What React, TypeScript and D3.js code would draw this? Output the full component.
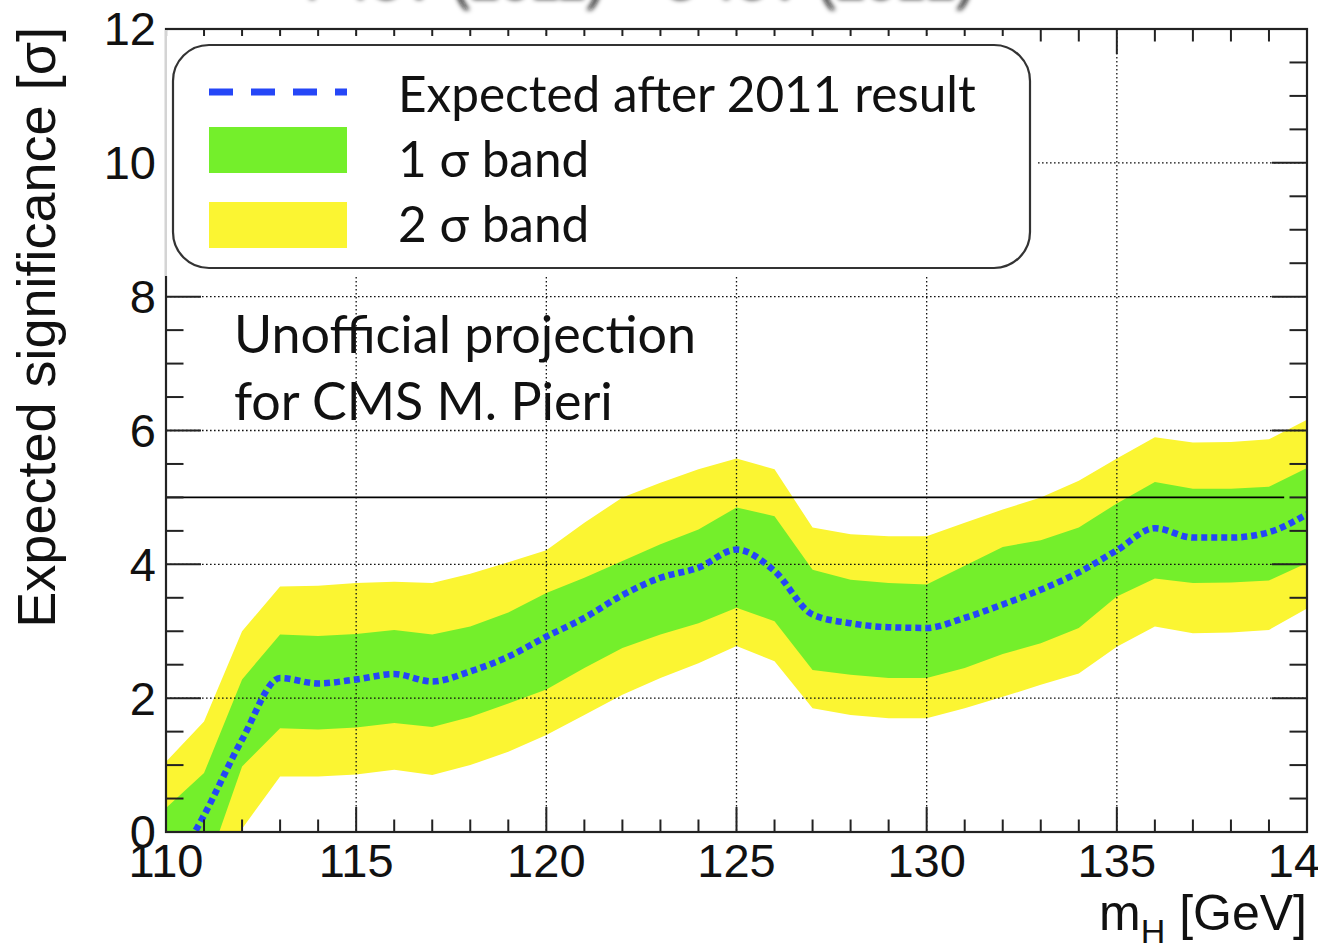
import React from 'react';
import * as d3 from 'd3';

// Higgs mass hypotheses [GeV]
const MASS = [110, 111, 112, 113, 114, 115, 116, 117, 118, 119, 120, 121, 122, 123, 124, 125, 126, 127, 128, 129, 130, 131, 132, 133, 134, 135, 136, 137, 138, 139, 140];

// Expected significance (median) and the 1σ / 2σ bands
const EXPECTED = [-0.75, 0.25, 1.38, 2.3, 2.22, 2.28, 2.36, 2.25, 2.4, 2.62, 2.92, 3.2, 3.54, 3.8, 3.95, 4.22, 3.9, 3.25, 3.12, 3.06, 3.05, 3.2, 3.4, 3.62, 3.88, 4.21, 4.54, 4.4, 4.4, 4.48, 4.75];
const BAND1_LO = [-1.6, -0.65, 0.98, 1.55, 1.53, 1.56, 1.63, 1.57, 1.72, 1.92, 2.13, 2.45, 2.75, 2.95, 3.12, 3.35, 3.15, 2.42, 2.35, 2.3, 2.3, 2.45, 2.66, 2.82, 3.05, 3.52, 3.79, 3.72, 3.73, 3.76, 4.02];
const BAND1_HI = [0.36, 0.88, 2.28, 2.95, 2.93, 2.96, 3.02, 2.95, 3.07, 3.28, 3.57, 3.8, 4.05, 4.3, 4.52, 4.85, 4.72, 3.92, 3.77, 3.72, 3.7, 3.98, 4.26, 4.36, 4.55, 4.91, 5.23, 5.13, 5.13, 5.16, 5.44];
const BAND2_LO = [-2.5, -1.3, 0.05, 0.83, 0.83, 0.86, 0.93, 0.85, 1.0, 1.2, 1.45, 1.75, 2.05, 2.3, 2.52, 2.78, 2.55, 1.85, 1.75, 1.7, 1.7, 1.85, 2.02, 2.2, 2.37, 2.77, 3.07, 2.97, 2.98, 3.02, 3.34];
const BAND2_HI = [1.05, 1.65, 3.0, 3.67, 3.68, 3.72, 3.74, 3.72, 3.86, 4.03, 4.21, 4.62, 5.0, 5.22, 5.42, 5.58, 5.42, 4.55, 4.45, 4.42, 4.42, 4.62, 4.82, 5.0, 5.25, 5.58, 5.9, 5.82, 5.83, 5.87, 6.16];

// Discovery threshold line
const DISCOVERY_LEVEL = 5;
const DISCOVERY_RANGE = [110, 139.4];

// Axes
const X_DOMAIN = [110, 140];
const Y_DOMAIN = [0, 12];
const X_TICKS = [110, 115, 120, 125, 130, 135, 140];
const Y_TICKS = [0, 2, 4, 6, 8, 10, 12];
const X_GRID = [115, 120, 125, 130, 135];
const Y_GRID = [2, 4, 6, 8, 10];

const LEGEND_LABELS = ['Expected after 2011 result', '1 σ band', '2 σ band'];
const NOTE_LINES = ['Unofficial projection', 'for CMS M. Pieri'];
const TITLE = '7 TeV (2011) + 8 TeV (2012)';

const W = 1318;
const H = 943;
const F = { left: 166, right: 1307, top: 29, bottom: 832 };

const C_GREEN = '#74ef2b';
const C_YELLOW = '#fbf532';
const C_BLUE = '#2546f7';

const AXIS_FONT = '"Liberation Sans", Arial, Helvetica, sans-serif';
const TEXT_FONT = 'Lato, "Open Sans", sans-serif';

type Row = { m: number; c: number; g0: number; g1: number; y0: number; y1: number };

export default function App() {
  const x = d3.scaleLinear().domain(X_DOMAIN).range([F.left, F.right]);
  const y = d3.scaleLinear().domain(Y_DOMAIN).range([F.bottom, F.top]);

  const rows: Row[] = MASS.map((m, i) => ({
    m,
    c: EXPECTED[i],
    g0: BAND1_LO[i],
    g1: BAND1_HI[i],
    y0: BAND2_LO[i],
    y1: BAND2_HI[i],
  }));

  const band2 = d3.area<Row>().x((d) => x(d.m)).y0((d) => y(d.y0)).y1((d) => y(d.y1));
  const band1 = d3.area<Row>().x((d) => x(d.m)).y0((d) => y(d.g0)).y1((d) => y(d.g1));
  const median = d3.line<Row>().x((d) => x(d.m)).y((d) => y(d.c)).curve(d3.curveMonotoneX);

  const xMinor = x.ticks(30);
  const yMinor = y.ticks(24);
  const xTickMajor = 25;
  const xTickMinor = 12.5;
  const yTickMajor = 35;
  const yTickMinor = 17.5;

  // legend panel geometry
  const cover = { x0: F.left, x1: 1036, y0: 36, y1: 276 };
  const box = { x: 173, y: 45, w: 857, h: 223 };
  const swX0 = 209;
  const swX1 = 347;
  const textX = 398;

  return (
    <svg
      width={W}
      height={H}
      style={{ position: 'absolute', left: 0, top: 0, background: '#fff' }}
      xmlns="http://www.w3.org/2000/svg"
    >
      <defs>
        <clipPath id="plotClip">
          <rect x={F.left} y={F.top} width={F.right - F.left} height={F.bottom - F.top} />
        </clipPath>
        <filter id="soft" x="-10%" y="-50%" width="120%" height="200%">
          <feGaussianBlur stdDeviation="2.6" />
        </filter>
      </defs>

      {/* heading, mostly above the visible area */}
      <text
        x={300}
        y={-1}
        fontFamily={AXIS_FONT}
        fontSize={54}
        fill="#111"
        filter="url(#soft)"
      >
        {TITLE}
      </text>

      {/* bands */}
      <g clipPath="url(#plotClip)">
        <path d={band2(rows) ?? ''} fill={C_YELLOW} />
        <path d={band1(rows) ?? ''} fill={C_GREEN} />
      </g>

      {/* grid */}
      <g stroke="#111" strokeWidth={1.3} strokeDasharray="1.6 2.4">
        {X_GRID.map((v) => (
          <line key={`gx${v}`} x1={x(v)} x2={x(v)} y1={F.top} y2={F.bottom} />
        ))}
        {Y_GRID.map((v) => (
          <line key={`gy${v}`} x1={F.left} x2={F.right} y1={y(v)} y2={y(v)} />
        ))}
      </g>

      {/* expected median */}
      <g clipPath="url(#plotClip)">
        <path
          d={median(rows) ?? ''}
          fill="none"
          stroke={C_BLUE}
          strokeWidth={6.5}
          strokeDasharray="6 4"
        />
      </g>

      {/* 5 sigma reference */}
      <line
        x1={x(DISCOVERY_RANGE[0])}
        x2={x(DISCOVERY_RANGE[1])}
        y1={y(DISCOVERY_LEVEL)}
        y2={y(DISCOVERY_LEVEL)}
        stroke="#000"
        strokeWidth={1.8}
      />

      {/* ticks on all four sides */}
      <g stroke="#222" strokeWidth={2}>
        {xMinor.map((v) => {
          const len = v % 5 === 0 ? xTickMajor : xTickMinor;
          return (
            <g key={`tx${v}`}>
              <line x1={x(v)} x2={x(v)} y1={F.bottom} y2={F.bottom - len} />
              <line x1={x(v)} x2={x(v)} y1={F.top} y2={F.top + len} />
            </g>
          );
        })}
        {yMinor.map((v) => {
          const len = v % 2 === 0 ? yTickMajor : yTickMinor;
          return (
            <g key={`ty${v}`}>
              <line x1={F.left} x2={F.left + len} y1={y(v)} y2={y(v)} />
              <line x1={F.right} x2={F.right - len} y1={y(v)} y2={y(v)} />
            </g>
          );
        })}
      </g>
      <rect
        x={F.left}
        y={F.top}
        width={F.right - F.left}
        height={F.bottom - F.top}
        fill="none"
        stroke="#222"
        strokeWidth={2.2}
      />

      {/* legend panel */}
      <rect x={cover.x0} y={cover.y0} width={cover.x1 - cover.x0} height={cover.y1 - cover.y0} fill="#fff" />
      <line x1={F.left} x2={F.left} y1={F.top + 1} y2={cover.y1} stroke="#d4d4d4" strokeWidth={2} />
      <rect
        x={box.x}
        y={box.y}
        width={box.w}
        height={box.h}
        rx={36}
        ry={36}
        fill="#fff"
        stroke="#333"
        strokeWidth={2.2}
      />
      <line x1={swX0} x2={swX1} y1={92} y2={92} stroke={C_BLUE} strokeWidth={7} strokeDasharray="24 18" />
      <rect x={swX0} y={127} width={swX1 - swX0} height={46} fill={C_GREEN} />
      <rect x={swX0} y={202} width={swX1 - swX0} height={46} fill={C_YELLOW} />
      <g fontFamily={TEXT_FONT} fontSize={49.5} fill="#111">
        <text x={textX} y={112}>{LEGEND_LABELS[0]}</text>
        <text x={textX} y={177}>{LEGEND_LABELS[1]}</text>
        <text x={textX} y={242}>{LEGEND_LABELS[2]}</text>
      </g>

      {/* annotation */}
      <g fontFamily={TEXT_FONT} fontSize={52} fill="#111">
        <text x={234} y={353}>{NOTE_LINES[0]}</text>
        <text x={234} y={420}>{NOTE_LINES[1]}</text>
      </g>

      {/* tick labels */}
      <g fontFamily={AXIS_FONT} fontSize={47} fill="#111">
        {Y_TICKS.map((v) => (
          <text key={`ly${v}`} x={156} y={y(v)} dy="0.35em" textAnchor="end">
            {v}
          </text>
        ))}
        {X_TICKS.map((v) => (
          <text key={`lx${v}`} x={x(v)} y={877} textAnchor="middle">
            {v}
          </text>
        ))}
      </g>

      {/* axis titles */}
      <text
        transform={`translate(55, 27) rotate(-90)`}
        textAnchor="end"
        fontFamily={AXIS_FONT}
        fontSize={54}
        fill="#111"
      >
        Expected significance [σ]
      </text>
      <text x={F.right} y={930} textAnchor="end" fontFamily={AXIS_FONT} fontSize={50} fill="#111">
        m
        <tspan fontSize={34} dy={13}>H</tspan>
        <tspan dy={-13}> [GeV]</tspan>
      </text>
    </svg>
  );
}
